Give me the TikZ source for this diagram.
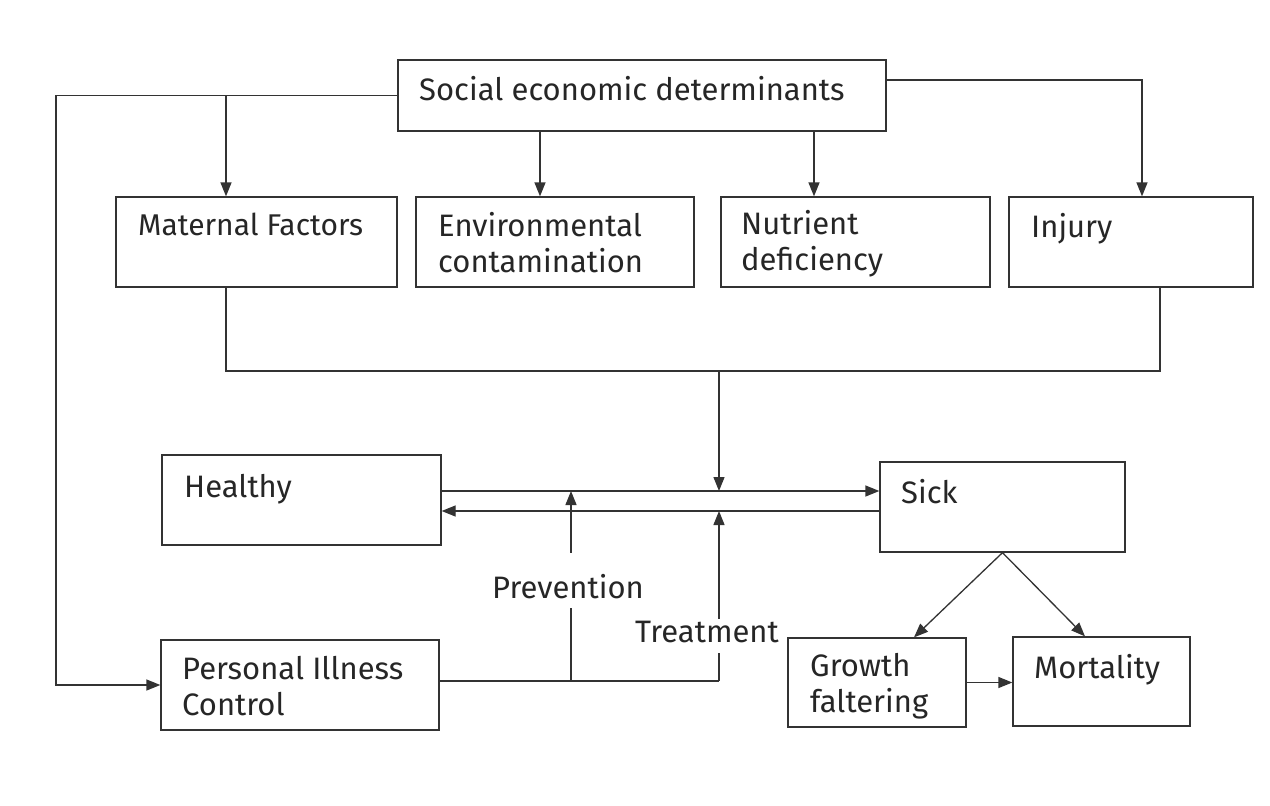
\documentclass[tikz,border=0pt]{standalone}
\usepackage{fontspec}
\setmainfont{Fira Sans}
\usetikzlibrary{arrows.meta}
\definecolor{linecol}{HTML}{333333}
\definecolor{textcol}{HTML}{262626}
\begin{document}
\begin{tikzpicture}[x=1pt,y=-1pt,
  box/.style={draw=linecol, line width=1.3pt, inner sep=0pt},
  txt/.style={font=\fontsize{31}{36}\selectfont, text=textcol, inner sep=0pt, anchor=base west, align=left},
  conn/.style={draw=linecol, line width=1.3pt},
  arr/.style={conn, -{Triangle[length=14pt,width=11pt]}}]
\useasboundingbox[fill=white] (0,0) rectangle (1270,806);
% boxes
\node[box, minimum width=488pt, minimum height=71pt] (soc) at (642,95.5) {};
\node[box, minimum width=281pt, minimum height=90pt] (mat) at (256.5,242) {};
\node[box, minimum width=278pt, minimum height=90pt] (env) at (555,242) {};
\node[box, minimum width=269pt, minimum height=90pt] (nut) at (855.5,242) {};
\node[box, minimum width=244pt, minimum height=90pt] (inj) at (1131,242) {};
\node[box, minimum width=279pt, minimum height=90pt] (healthy) at (301.5,500) {};
\node[box, minimum width=245pt, minimum height=90pt] (sick) at (1002.5,507) {};
\node[box, minimum width=278pt, minimum height=90pt] (pic) at (300,685) {};
\node[box, minimum width=178pt, minimum height=89pt] (grow) at (877,682.5) {};
\node[box, minimum width=177pt, minimum height=89pt] (mort) at (1101.5,681.5) {};
% texts
\node[txt] (tsoc) at (419,100) {Social economic determinants};
\node[txt, font=\fontsize{30}{36}\selectfont] (tmat) at (138,235) {Maternal Factors};
\node[txt] (tenv) at (438,272) {Environmental\\contamination};
\node[txt] (tnut) at (741,270) {Nutrient\\deficiency};
\node[txt] (tinj) at (1031,237) {Injury};
\node[txt] (thea) at (184,497) {Healthy};
\node[txt] (tsick) at (901,503) {Sick};
\node[txt] (tpic) at (182,715) {Personal Illness\\Control};
\node[txt] (tgrow) at (810,712) {Growth\\faltering};
\node[txt] (tmort) at (1034,678) {Mortality};
\node[txt, anchor=base, text height=45pt, text depth=10pt] (prev) at (568,598) {Prevention};
\node[txt, anchor=base, text height=23pt, text depth=11pt] (treat) at (707,642) {Treatment};
% coordinates
\coordinate (lft) at (56,95.5);
\coordinate (ma) at (226,95.5);
\coordinate (ea) at (540,0);
\coordinate (na) at (814,0);
\coordinate (ia) at (1142,0);
\coordinate (mg) at (1160,371);
\coordinate (ta) at (719,371);
\coordinate (up) at (0,491);
\coordinate (lo) at (0,511);
\coordinate (pj) at (571,681);
\coordinate (tj) at (719,681);
% connectors
\draw[arr] (soc.west) -- (lft) |- (pic.west);
\draw[arr] (ma) -- (ma |- mat.north);
\draw[arr] (ea |- soc.south) -- (ea |- env.north);
\draw[arr] (na |- soc.south) -- (na |- nut.north);
\draw[arr] ([yshift=15.5pt]soc.east) -| (ia |- inj.north);
\draw[conn] (ma |- mat.south) |- (mg) -- (mg |- inj.south);
\draw[arr] (ta) -- (ta |- up);
\draw[arr] (up -| healthy.east) -- (up -| sick.west);
\draw[arr] (lo -| sick.west) -- (lo -| healthy.east);
\draw[conn] (pic.east |- tj) -- (tj);
\draw[conn] (pj) -- (pj |- prev.south);
\draw[arr] (pj |- prev.north) -- (pj |- up);
\draw[conn] (tj) -- (tj |- treat.south);
\draw[arr] (tj |- treat.north) -- (tj |- lo);
\draw[arr] (sick.south) -- ([xshift=37pt]grow.north);
\draw[arr] (sick.south) -- ([xshift=-16.5pt]mort.north);
\draw[arr] (grow.east) -- (grow.east -| mort.west);
\end{tikzpicture}
\end{document}
